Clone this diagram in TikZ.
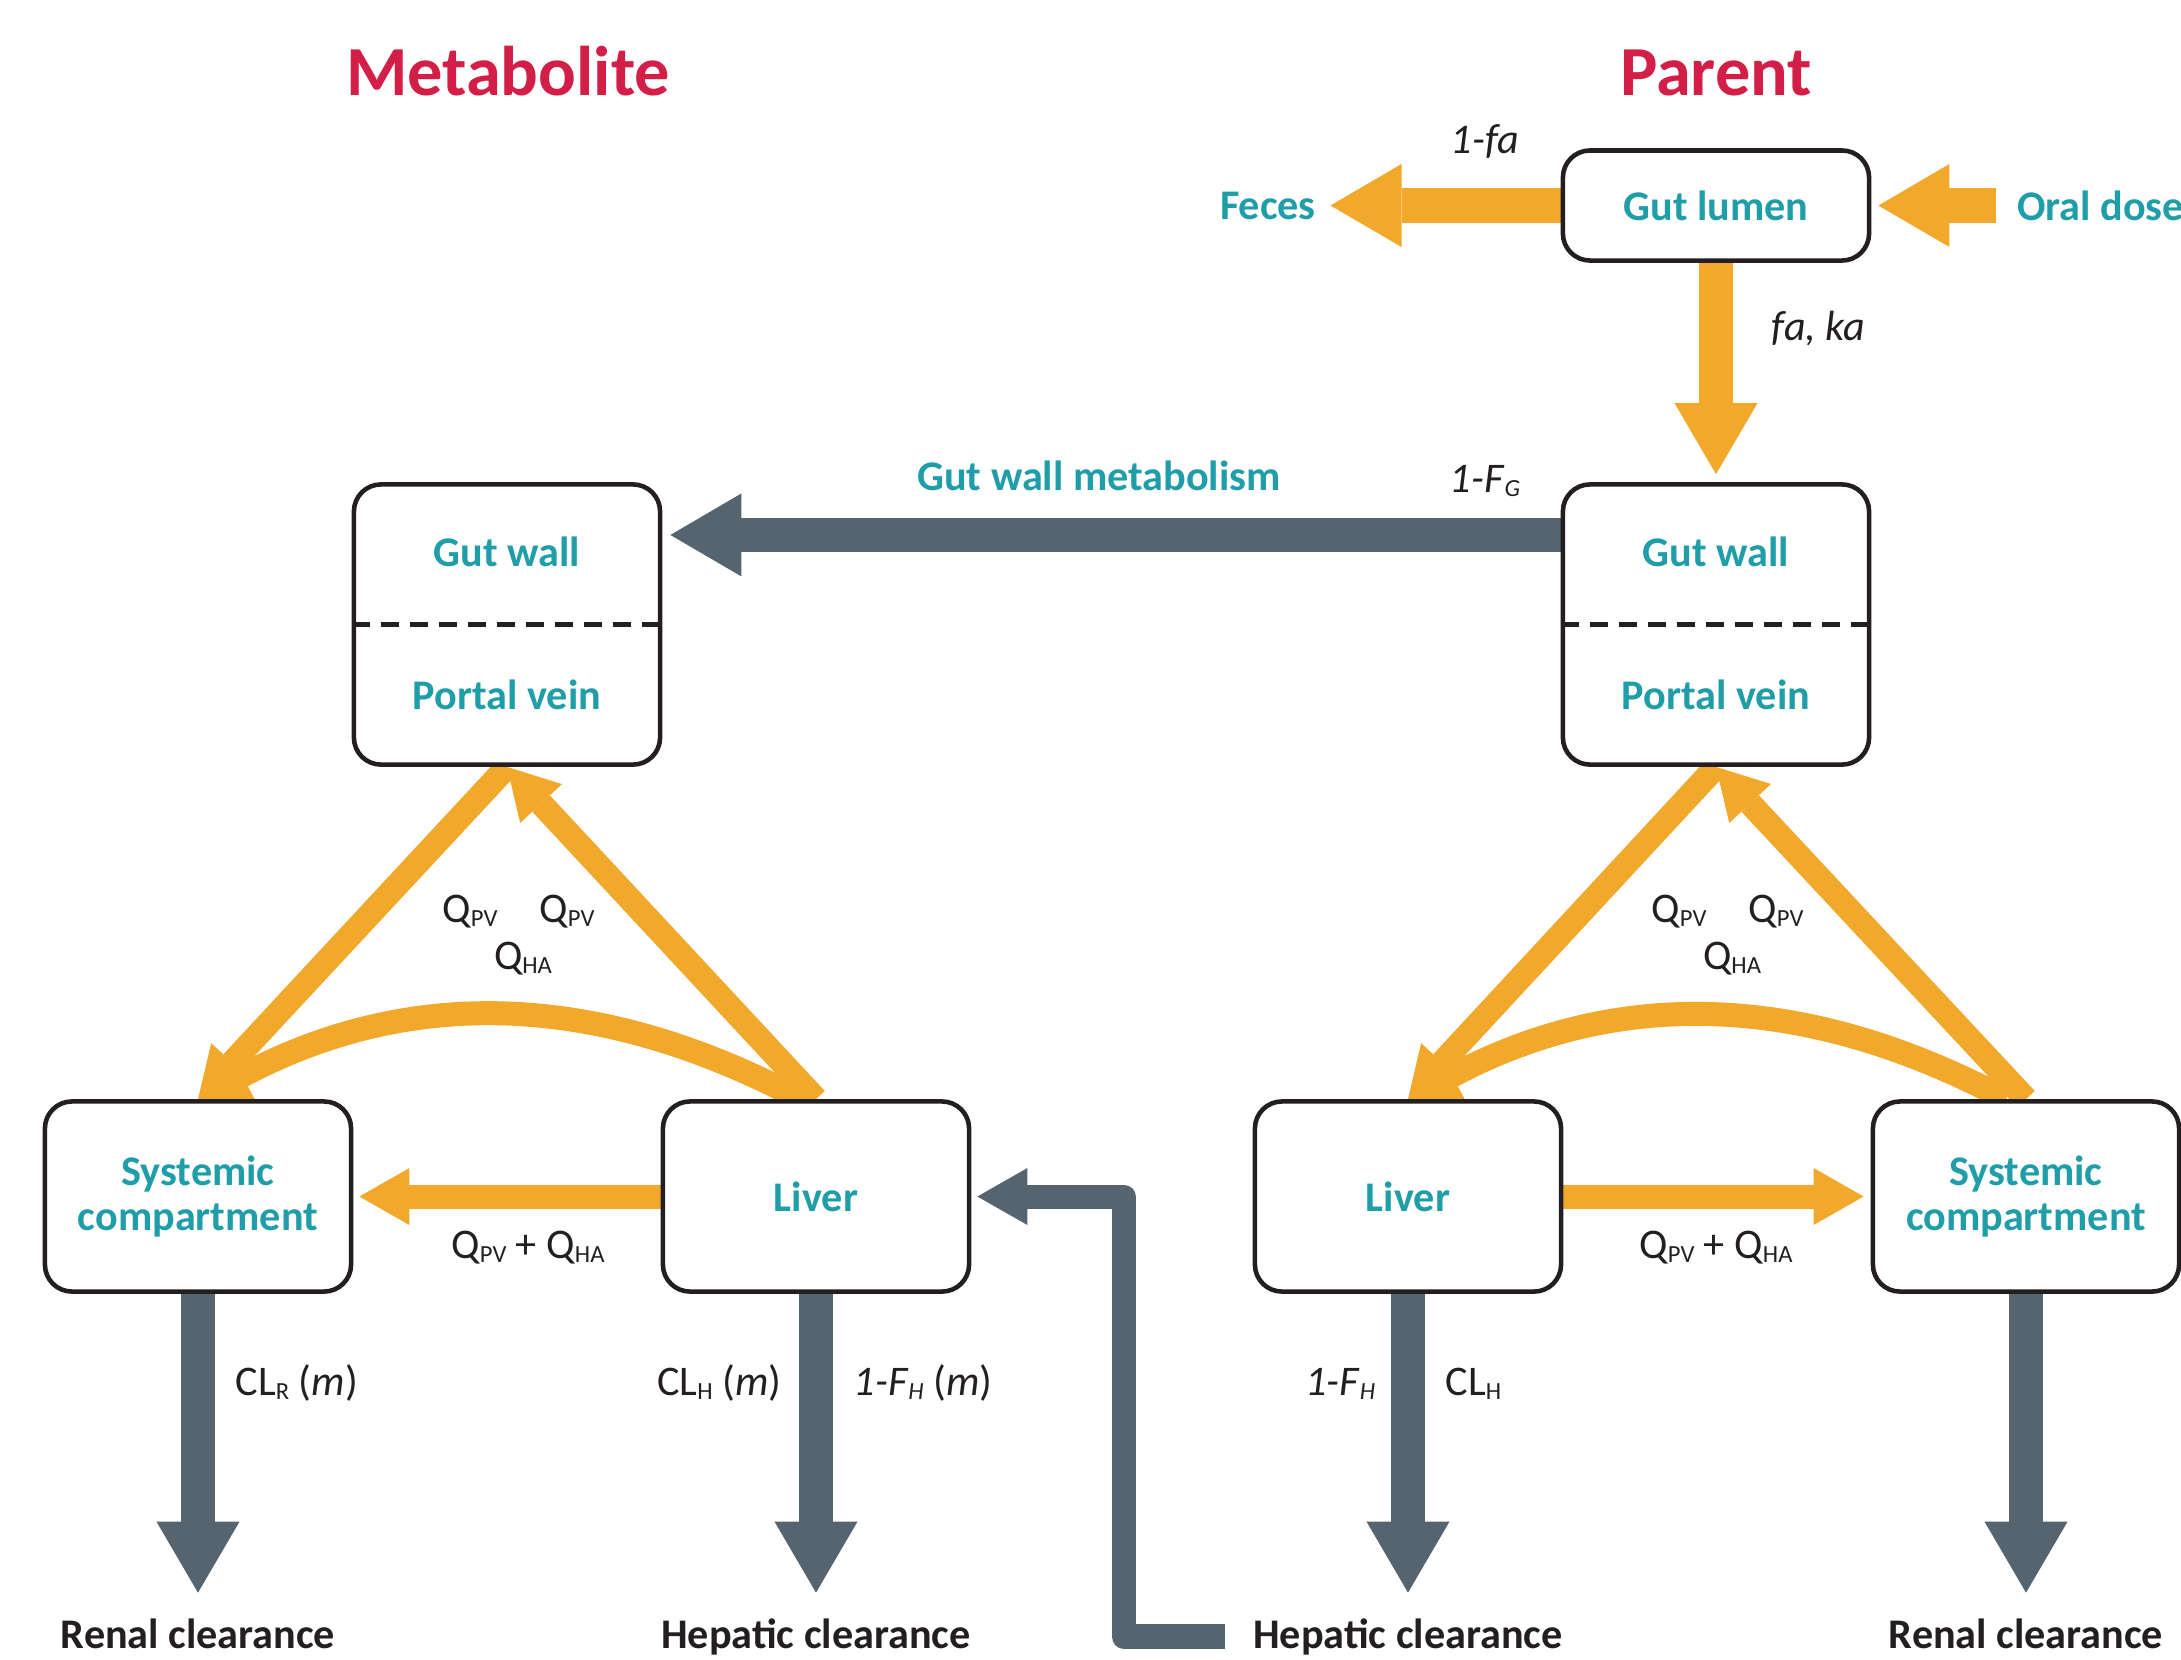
\documentclass[tikz,border=0pt]{standalone}
\usepackage{fontspec}
\setmainfont{Carlito}
\usetikzlibrary{arrows.meta,positioning}

\definecolor{flowOrange}{HTML}{F2A82B}
\definecolor{flowGrey}{HTML}{55646F}
\definecolor{boxTeal}{HTML}{1F9DA9}
\definecolor{titleRed}{HTML}{D31F47}
\definecolor{boxLine}{HTML}{231F20}

% small lowered index, as in Q_PV
\newcommand{\subtxt}[1]{\raisebox{-1.4pt}{\fontsize{7}{8}\selectfont #1}}

\pgfdeclarelayer{arrowlayer}
\pgfsetlayers{arrowlayer,main}

\begin{document}
\begin{tikzpicture}[x=0.01cm, y=-0.01cm,
    compbox/.style={draw=boxLine, line width=1.3pt, rounded corners=0.27cm, fill=white,
      minimum width=3.06cm, text=boxTeal, font=\fontsize{12}{12.6}\selectfont\bfseries, align=center},
    boxlabel/.style={text=boxTeal, font=\fontsize{12}{14}\selectfont\bfseries, inner sep=0pt},
    flowlabel/.style={text=boxTeal, font=\fontsize{12}{14}\selectfont\bfseries, inner sep=0pt},
    clearlabel/.style={text=boxLine, font=\fontsize{12}{14}\selectfont\bfseries, inner sep=0pt},
    title/.style={text=titleRed, font=\fontsize{20}{24}\selectfont\bfseries, inner sep=0pt},
    rate/.style={text=boxLine, font=\fontsize{12}{14}\selectfont, inner sep=0pt},
    divider/.style={draw=boxLine, line width=1.2pt, dash pattern=on 0.18cm off 0.11cm},
    bigflow/.style={line width=0.34cm, -{Triangle[length=0.71cm, width=0.83cm, line width=0pt]}},
    midflow/.style={line width=0.24cm, -{Triangle[length=0.5cm, width=0.57cm, line width=0pt]}}]

  \useasboundingbox (0,0) rectangle (2181,1660);

  % Titles
  \node[title, anchor=base] (mtitle) at (508,95) {Metabolite};
  \node[title, anchor=base] (ptitle) at (1716,95) {Parent};

  % Compartments
  \node[compbox, minimum height=1.1cm] (lumen) at (1716,205.5) {Gut lumen};
  \node[compbox, minimum height=2.8cm] (pgw) at (1716,624.5) {};
  \node[compbox, minimum height=2.8cm] (mgw) at (507,624.5) {};
  \node[compbox, minimum height=1.9cm] (msys) at (198,1196.5) {Systemic\\compartment};
  \node[compbox, minimum height=1.9cm] (mliver) at (816,1196.5) {Liver};
  \node[compbox, minimum height=1.9cm] (pliver) at (1408,1196.5) {Liver};
  \node[compbox, minimum height=1.9cm] (psys) at (2026,1196.5) {Systemic\\compartment};

  % Gut wall / portal vein split
  \foreach \b in {mgw,pgw} {
    \node[boxlabel] (\b-top) at ([yshift=0.725cm]\b.center) {Gut wall};
    \node[boxlabel] (\b-bot) at ([yshift=-0.705cm]\b.center) {Portal vein};
    \draw[divider] (\b.west) -- (\b.east);
  }

  % Inputs and outputs
  \node[flowlabel, left=2.44cm of lumen] (feces) {Feces};
  \node[flowlabel, right=1.45cm of lumen] (oral) {Oral dose};
  \node[clearlabel, anchor=base] (mren) at (198,1648) {Renal clearance};
  \node[clearlabel, anchor=base] (mhep) at (816,1648) {Hepatic clearance};
  \node[clearlabel, anchor=base] (phep) at (1408,1648) {Hepatic clearance};
  \node[clearlabel, anchor=base] (pren) at (2026,1648) {Renal clearance};

  % Rate labels
  \node[rate, anchor=base] (lfa) at (1485,153) {\textit{1-fa}};
  \node[rate, anchor=base west] (lfaka) at (1771,340) {\textit{fa, ka}};
  \node[flowlabel, anchor=base] (lgwm) at (1099,490) {Gut wall metabolism};
  \node[rate, anchor=base] (lfg) at (1485,492) {\textit{1-F}\subtxt{\textit{G}}};
  \foreach \c/\n in {507/m,1716/p} {
    \node[rate, anchor=base] (\n qpva) at (\c-37,922) {Q\subtxt{PV}};
    \node[rate, anchor=base] (\n qpvb) at (\c+60,922) {Q\subtxt{PV}};
    \node[rate, anchor=base] (\n qha) at (\c+16,969) {Q\subtxt{HA}};
  }
  \node[rate, anchor=base] (mqsum) at (528,1258) {Q\subtxt{PV} + Q\subtxt{HA}};
  \node[rate, anchor=base] (pqsum) at (1716,1258) {Q\subtxt{PV} + Q\subtxt{HA}};
  \node[rate, anchor=base west] (mclr) at (235,1395) {CL\subtxt{R} (\textit{m})};
  \node[rate, anchor=base east] (mclh) at (782,1395) {CL\subtxt{H} (\textit{m})};
  \node[rate, anchor=base west] (mfh) at (853,1395) {\textit{1-F}\subtxt{\textit{H}} (\textit{m})};
  \node[rate, anchor=base east] (pfh) at (1376,1395) {\textit{1-F}\subtxt{\textit{H}}};
  \node[rate, anchor=base west] (pclh) at (1445,1395) {CL\subtxt{H}};

  \begin{pgfonlayer}{arrowlayer}
    % Absorption
    \draw[bigflow, flowOrange, shorten <=0.2cm, shorten >=0.07cm] (oral.west) -- (lumen.east);
    \draw[bigflow, flowOrange, shorten >=0.14cm] (lumen.west) -- (lumen.west -| feces.east);
    \draw[bigflow, flowOrange, shorten >=0.08cm] (lumen.south) -- (pgw.north);

    % Gut wall metabolism
    \draw[bigflow, flowGrey, shorten >=0.08cm] ([yshift=0.895cm]pgw.west) -- ([yshift=0.895cm]mgw.east);

    % Blood flows
    \draw[midflow, flowOrange] (mliver.north) -- (mgw.south);
    \draw[midflow, flowOrange] (mgw.south) -- (msys.north);
    \draw[midflow, flowOrange] ([xshift=-0.15cm]mliver.north) to[bend right=28] (msys.north);
    \draw[midflow, flowOrange, shorten >=0.06cm] (mliver.west) -- (msys.east);
    \draw[midflow, flowOrange] (psys.north) -- (pgw.south);
    \draw[midflow, flowOrange] (pgw.south) -- (pliver.north);
    \draw[midflow, flowOrange] ([xshift=-0.2cm]psys.north) to[bend right=28] (pliver.north);
    \draw[midflow, flowOrange, shorten >=0.07cm] (pliver.east) -- (psys.west);

    % Clearance
    \foreach \s/\t in {msys/mren,mliver/mhep,pliver/phep,psys/pren}
      \draw[bigflow, flowGrey, shorten >=0.25cm] (\s.south) -- (\s.south |- \t.north);

    % Parent hepatic clearance feeds metabolite liver
    \draw[midflow, flowGrey, line join=round, shorten <=0.28cm, shorten >=0.06cm]
      (phep.west) -- ++(-129,0) |- (mliver.east);
  \end{pgfonlayer}

\end{tikzpicture}
\end{document}
